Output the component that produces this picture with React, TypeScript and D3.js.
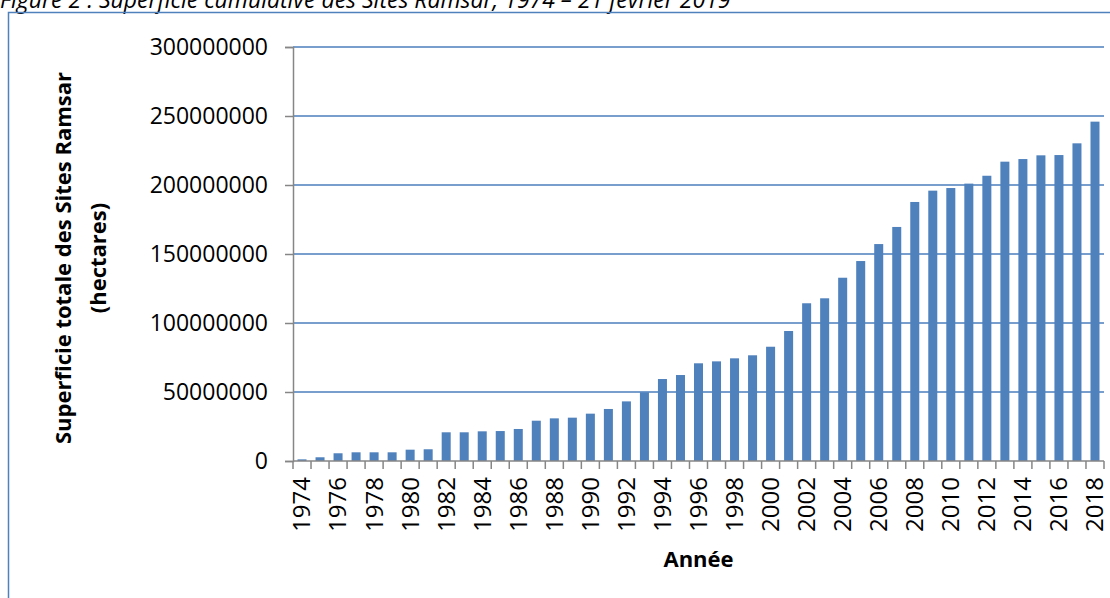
import { useEffect, useRef } from 'react';
import * as d3 from 'd3';

// Superficie cumulative des Sites Ramsar (hectares)
const years = [
  '1974', '1975', '1976', '1977', '1978', '1979', '1980', '1981', '1982', '1983',
  '1984', '1985', '1986', '1987', '1988', '1989', '1990', '1991', '1992', '1993',
  '1994', '1995', '1996', '1997', '1998', '1999', '2000', '2001', '2002', '2003',
  '2004', '2005', '2006', '2007', '2008', '2009', '2010', '2011', '2012', '2013',
  '2014', '2015', '2016', '2017', '2018',
];

const surfaces = [
  1200000, 2700000, 5600000, 6300000, 6300000, 6300000, 8200000, 8500000, 20800000, 20800000,
  21500000, 21700000, 23200000, 29200000, 30900000, 31400000, 34300000, 37700000, 43200000, 49800000,
  59400000, 62300000, 70800000, 72200000, 74400000, 76600000, 82800000, 94200000, 114300000, 117900000,
  132800000, 144900000, 157200000, 169600000, 187700000, 195900000, 197800000, 201000000, 206700000, 216900000,
  218800000, 221500000, 221700000, 230200000, 245900000,
];

const yTicks = [0, 50000000, 100000000, 150000000, 200000000, 250000000, 300000000];
const xLabels = years.filter((_, i) => i % 2 === 0);

const title = 'Figure 2 : Superficie cumulative des Sites Ramsar, 1974 – 21 février 2019';
const yTitle = ['Superficie totale des Sites Ramsar', '(hectares)'];
const xTitle = 'Année';

const W = 1110;
const H = 598;
const margin = { top: 47, right: 6, bottom: 137, left: 293 };
const FONT = "'Open Sans', 'Liberation Sans', sans-serif";

export default function App() {
  const svgRef = useRef<SVGSVGElement>(null);

  useEffect(() => {
    if (!svgRef.current) return;
    const svg = d3.select(svgRef.current);
    svg.selectAll('*').remove();

    const width = W - margin.left - margin.right;
    const height = H - margin.top - margin.bottom;

    // Title (cut at the top, as in the source document)
    svg.append('text')
      .attr('x', 0)
      .attr('y', 8)
      .attr('font-family', FONT)
      .attr('font-style', 'italic')
      .attr('font-size', 23)
      .attr('fill', '#000')
      .text(title);

    // Frame
    svg.append('path')
      .attr('d', `M8.5,${H} V12.5 H${W}`)
      .attr('fill', 'none')
      .attr('stroke', '#4f81bd')
      .attr('stroke-width', 1.5);

    const g = svg.append('g')
      .attr('transform', `translate(${margin.left},${margin.top})`);

    const x = d3.scaleBand<string>()
      .domain(years)
      .range([0, width])
      .paddingInner(0.5)
      .paddingOuter(0.25);

    const y = d3.scaleLinear()
      .domain([0, 300000000])
      .range([height, 0]);

    // Gridlines
    g.append('g')
      .selectAll('line')
      .data(yTicks.filter(d => d > 0))
      .join('line')
      .attr('x1', 0)
      .attr('x2', width)
      .attr('y1', d => y(d))
      .attr('y2', d => y(d))
      .attr('stroke', '#4a7ebb')
      .attr('stroke-width', 1.5);

    // Bars
    g.append('g')
      .selectAll('rect')
      .data(years)
      .join('rect')
      .attr('x', d => x(d)!)
      .attr('y', (_, i) => y(surfaces[i]))
      .attr('width', x.bandwidth())
      .attr('height', (_, i) => height - y(surfaces[i]))
      .attr('fill', '#4f81bd');

    // Y axis
    const yAxis = d3.axisLeft(y)
      .tickValues(yTicks)
      .tickFormat(d => String(d))
      .tickSize(8)
      .tickPadding(17);

    const yg = g.append('g').call(yAxis);
    yg.select('.domain').attr('stroke', '#868686').attr('stroke-width', 1.5);
    yg.selectAll('.tick line').attr('stroke', '#868686').attr('stroke-width', 1.5);
    yg.selectAll('.tick text')
      .attr('font-family', FONT)
      .attr('font-size', 23)
      .attr('fill', '#000');

    // X axis: line, boundary ticks, rotated labels
    const step = x.step();
    const boundaries = years.map(d => x(d)! - step * 0.25).concat([width]);

    const xg = g.append('g').attr('transform', `translate(0,${height})`);
    xg.append('line')
      .attr('x1', 0)
      .attr('x2', width)
      .attr('stroke', '#868686')
      .attr('stroke-width', 1.5);
    xg.selectAll('line.tk')
      .data(boundaries)
      .join('line')
      .attr('class', 'tk')
      .attr('x1', d => d)
      .attr('x2', d => d)
      .attr('y1', 0)
      .attr('y2', 8)
      .attr('stroke', '#868686')
      .attr('stroke-width', 1.5);

    xg.selectAll('text')
      .data(xLabels)
      .join('text')
      .attr('transform', d => `translate(${x(d)! + x.bandwidth() / 2},0) rotate(-90)`)
      .attr('x', -16)
      .attr('y', 0)
      .attr('dy', '0.35em')
      .attr('text-anchor', 'end')
      .attr('font-family', FONT)
      .attr('font-size', 24)
      .attr('fill', '#000')
      .text(d => d);

    // Axis titles
    yTitle.forEach((line, i) => {
      svg.append('text')
        .attr('transform', `translate(${71 + i * 35},${margin.top + height / 2 + 4}) rotate(-90)`)
        .attr('text-anchor', 'middle')
        .attr('font-family', FONT)
        .attr('font-weight', 'bold')
        .attr('font-size', 22)
        .attr('fill', '#000')
        .text(line);
    });

    svg.append('text')
      .attr('x', margin.left + width / 2)
      .attr('y', 567)
      .attr('text-anchor', 'middle')
      .attr('font-family', FONT)
      .attr('font-weight', 'bold')
      .attr('font-size', 22)
      .attr('fill', '#000')
      .text(xTitle);
  }, []);

  return (
    <svg
      ref={svgRef}
      width={W}
      height={H}
      style={{ position: 'absolute', left: 0, top: 0, background: '#fff' }}
    />
  );
}
